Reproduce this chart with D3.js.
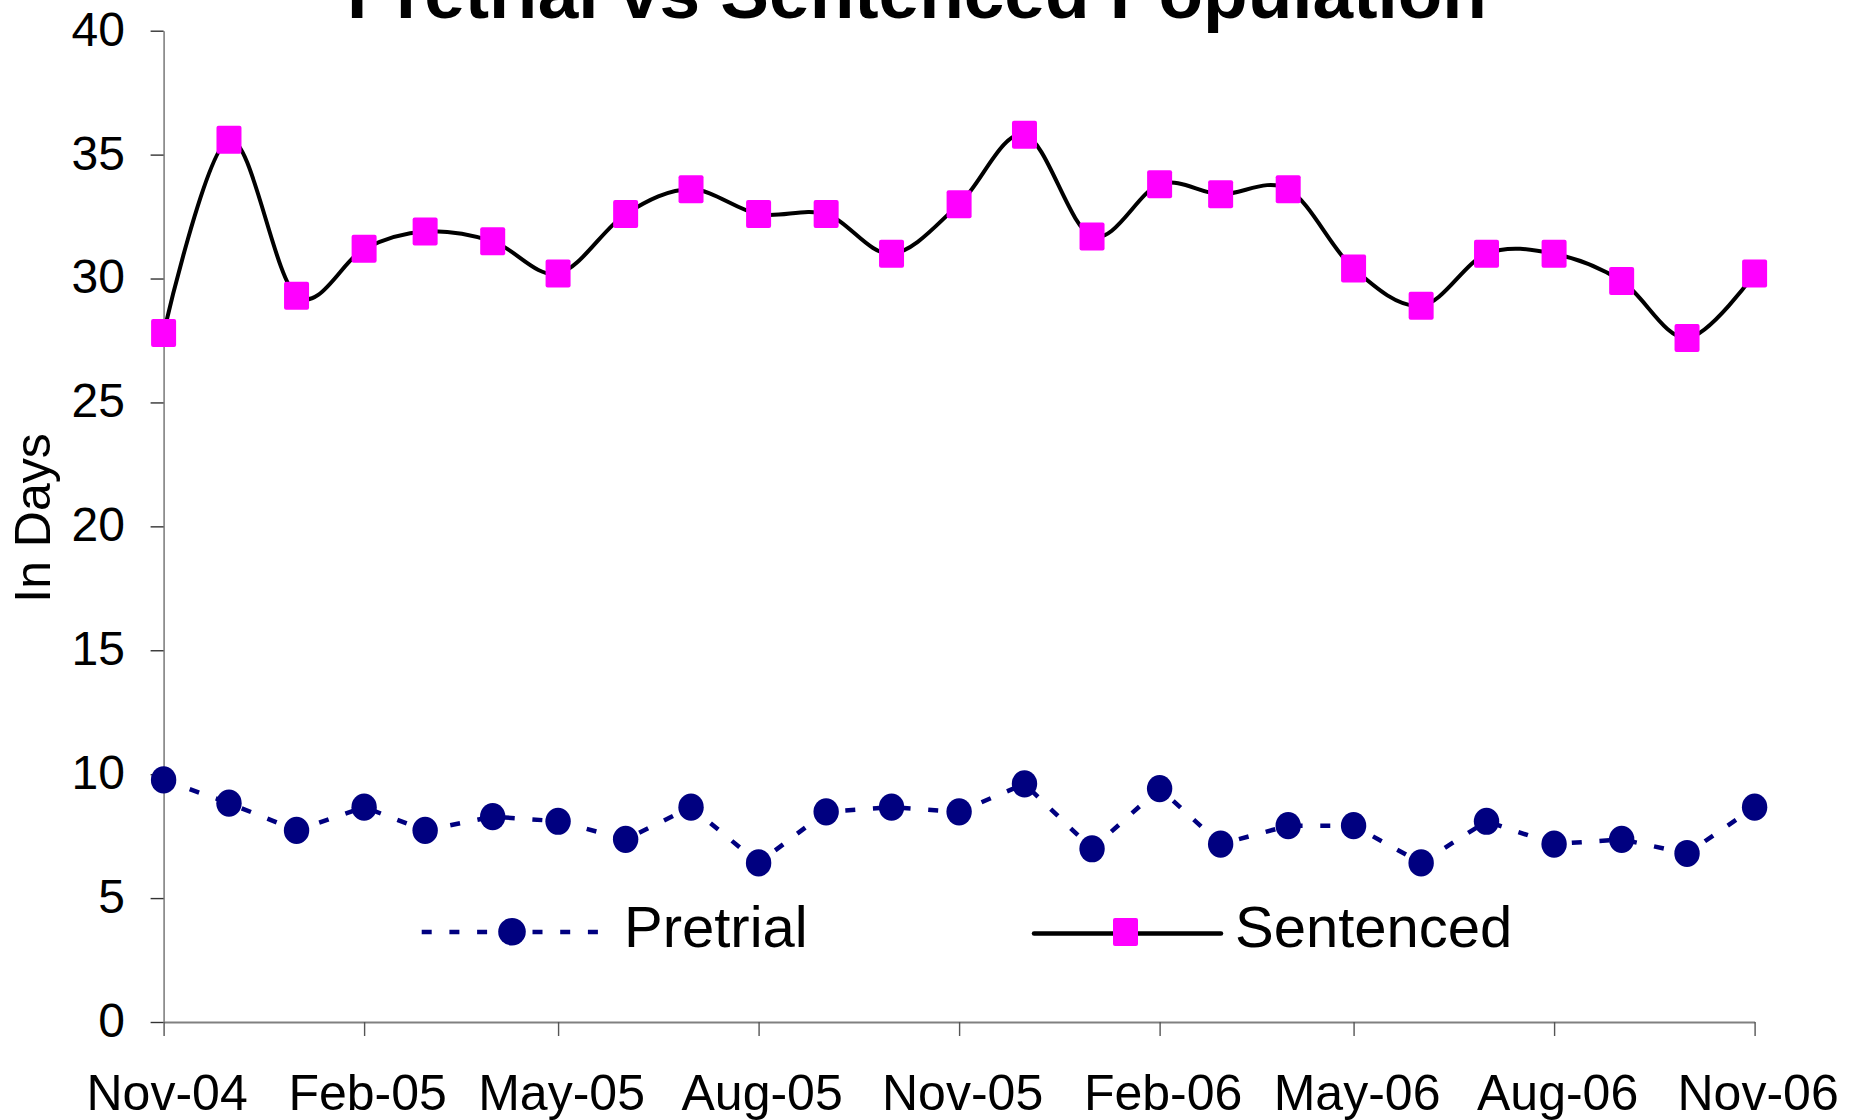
<!DOCTYPE html>
<html>
<head>
<meta charset="utf-8">
<script src="https://cdn.jsdelivr.net/npm/d3@7"></script>
<style>
  body { margin: 0; background: #fff; }
  text { font-family: "Liberation Sans", Arial, sans-serif; }
</style>
</head>
<body>
<div id="chart"></div>
<script>
// data
var months = ["2004-11", "2004-12", "2005-01", "2005-02", "2005-03", "2005-04", "2005-05",
  "2005-06", "2005-07", "2005-08", "2005-09", "2005-10", "2005-11", "2005-12", "2006-01",
  "2006-02", "2006-03", "2006-04", "2006-05", "2006-06", "2006-07", "2006-08", "2006-09",
  "2006-10", "2006-11"];
var pretrial = [9.77, 8.83, 7.73, 8.67, 7.73, 8.29, 8.10, 7.37, 8.67, 6.42, 8.48, 8.67,
  8.48, 9.61, 6.99, 9.42, 7.18, 7.92, 7.92, 6.42, 8.10, 7.18, 7.37, 6.80, 8.67];
var sentenced = [27.8, 35.6, 29.3, 31.2, 31.9, 31.5, 30.2, 32.6, 33.6, 32.6, 32.6, 31.0,
  33.0, 35.8, 31.7, 33.8, 33.4, 33.6, 30.4, 28.9, 31.0, 31.0, 29.9, 27.6, 30.2];
var tickLabels = ["Nov-04", "Feb-05", "May-05", "Aug-05", "Nov-05", "Feb-06", "May-06",
  "Aug-06", "Nov-06"];
var yTicks = [0, 5, 10, 15, 20, 25, 30, 35, 40];

var svgWidth = 1852;
var svgHeight = 1120;

var margin = { top: 30.7, right: 97.4, bottom: 98, left: 163.6 };
var width = svgWidth - margin.left - margin.right;
var height = svgHeight - margin.top - margin.bottom;

var parseMonth = d3.timeParse("%Y-%m");
var dates = months.map(parseMonth);

var svg = d3.select("#chart")
  .append("svg")
  .attr("width", svgWidth)
  .attr("height", svgHeight);

var chartGroup = svg.append("g")
  .attr("transform", `translate(${margin.left}, ${margin.top})`);

// Scales
var xScale = d3.scaleTime()
  .domain([dates[0], dates[dates.length - 1]])
  .range([0, width]);

var yScale = d3.scaleLinear()
  .domain([0, 40])
  .range([height, 0]);

// Axes
var tickDates = dates.filter((d, i) => i % 3 === 0);

var bottomAxis = d3.axisBottom(xScale)
  .tickValues(tickDates)
  .tickSize(14)
  .tickSizeOuter(0)
  .tickFormat((d, i) => tickLabels[i]);

var leftAxis = d3.axisLeft(yScale)
  .tickValues(yTicks)
  .tickSize(13)
  .tickSizeOuter(0);

var yAxisG = chartGroup.append("g")
  .call(leftAxis);
yAxisG.select(".domain").attr("stroke", "#808080").attr("stroke-width", 1.6);
yAxisG.selectAll(".tick line").attr("stroke", "#333").attr("stroke-width", 1.4);
yAxisG.selectAll(".tick text")
  .attr("x", -38.6)
  .attr("dy", "0.3em")
  .style("font-size", "48px")
  .attr("fill", "#000");

var xAxisG = chartGroup.append("g")
  .attr("transform", `translate(0, ${height})`)
  .call(bottomAxis);
xAxisG.select(".domain").attr("stroke", "#808080").attr("stroke-width", 1.8);
xAxisG.selectAll(".tick line").attr("stroke", "#555").attr("stroke-width", 1.4);
xAxisG.selectAll(".tick text")
  .attr("y", 88)
  .attr("dy", 0)
  .attr("dx", 3)
  .style("font-size", "50px")
  .attr("fill", "#000");

// Pretrial: dashed straight line with navy dots
var pretrialLine = d3.line()
  .x((d, i) => xScale(dates[i]))
  .y(d => yScale(d));

chartGroup.append("path")
  .datum(pretrial)
  .attr("d", pretrialLine)
  .attr("fill", "none")
  .attr("stroke", "#000080")
  .attr("stroke-width", 4.5)
  .attr("stroke-dasharray", "10,17.7");

chartGroup.selectAll(".pre-dot")
  .data(pretrial)
  .enter()
  .append("ellipse")
  .attr("class", "pre-dot")
  .attr("cx", (d, i) => xScale(dates[i]))
  .attr("cy", d => yScale(d))
  .attr("rx", 12.7)
  .attr("ry", 13.6)
  .attr("fill", "#000080");

// Sentenced: smoothed black line with magenta squares
var sentencedLine = d3.line()
  .x((d, i) => xScale(dates[i]))
  .y(d => yScale(d))
  .curve(d3.curveCardinal.tension(0));

chartGroup.append("path")
  .datum(sentenced)
  .attr("d", sentencedLine)
  .attr("fill", "none")
  .attr("stroke", "#000")
  .attr("stroke-width", 4);

chartGroup.selectAll(".sen-sq")
  .data(sentenced)
  .enter()
  .append("rect")
  .attr("class", "sen-sq")
  .attr("x", (d, i) => xScale(dates[i]) - 12.5)
  .attr("y", d => yScale(d) - 14)
  .attr("width", 25)
  .attr("height", 28)
  .attr("rx", 2)
  .attr("fill", "#ff00ff");

// Title (clipped at the top in the original)
svg.append("text")
  .attr("x", 917)
  .attr("y", 18.3)
  .attr("text-anchor", "middle")
  .style("font-size", "73px")
  .style("font-weight", "bold")
  .text("Pretrial vs Sentenced Population");

// Y axis label
svg.append("text")
  .attr("transform", "translate(50, 518) rotate(-90)")
  .attr("text-anchor", "middle")
  .style("font-size", "50px")
  .text("In Days");

// Legend
var legend = svg.append("g");

legend.append("line")
  .attr("x1", 421.7).attr("x2", 598)
  .attr("y1", 932).attr("y2", 932)
  .attr("stroke", "#000080")
  .attr("stroke-width", 4.5)
  .attr("stroke-dasharray", "10,17.7");
legend.append("ellipse")
  .attr("cx", 512).attr("cy", 931.7)
  .attr("rx", 13.8).attr("ry", 13.8)
  .attr("fill", "#000080");
legend.append("text")
  .attr("x", 624).attr("y", 946.7)
  .style("font-size", "58px")
  .text("Pretrial");

legend.append("line")
  .attr("x1", 1034).attr("x2", 1221)
  .attr("y1", 933.5).attr("y2", 933.5)
  .attr("stroke", "#000")
  .attr("stroke-width", 4.5)
  .attr("stroke-linecap", "round");
legend.append("rect")
  .attr("x", 1113).attr("y", 918)
  .attr("width", 25).attr("height", 28)
  .attr("rx", 2)
  .attr("fill", "#ff00ff");
legend.append("text")
  .attr("x", 1235).attr("y", 946.7)
  .style("font-size", "58px")
  .text("Sentenced");
</script>
</body>
</html>
